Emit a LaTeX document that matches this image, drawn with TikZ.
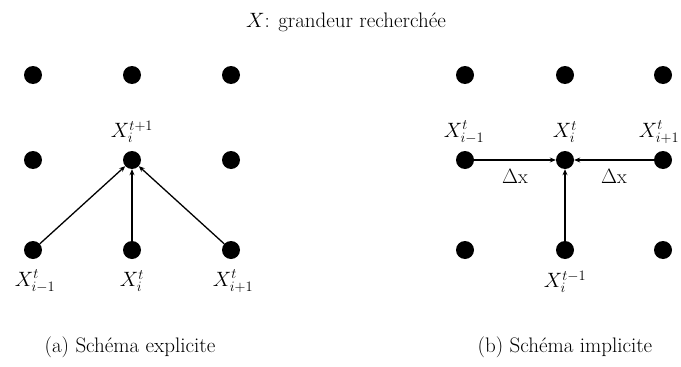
\documentclass[tikz,border=0pt]{standalone}
\usetikzlibrary{arrows.meta}
\begin{document}
\begin{tikzpicture}[x=1pt,y=-1pt,
  dot/.style={circle,fill=black,inner sep=0pt,minimum size=18pt},
  lbl/.style={font=\fontsize{20}{24}\selectfont,inner sep=0pt},
  txt/.style={font=\fontsize{21}{25}\selectfont,inner sep=0pt},
  arr/.style={-{Stealth[length=6pt,width=5pt]},line width=1.3pt}]
\useasboundingbox (0,0) rectangle (681,367);
\node[txt] (title) at (346,22) {$X$: grandeur recherchée};
% left grid
\foreach \c/\x in {a/33,b/132,c/231}{
  \foreach \r/\y in {1/75,2/160,3/250}{
    \node[dot] (L\c\r) at (\x,\y) {};
  }}
\foreach \c/\x in {a/465,b/565,c/663}{
  \foreach \r/\y in {1/75,2/160,3/250}{
    \node[dot] (R\c\r) at (\x,\y) {};
  }}
% left labels
\node[lbl] (l1) at (132,132) {$X_i^{t+1}$};
\node[lbl] (l2) at (35,281) {$X_{i-1}^t$};
\node[lbl] (l3) at (132,281) {$X_i^t$};
\node[lbl] (l4) at (233,281) {$X_{i+1}^t$};
\draw[arr] (La3) -- (Lb2);
\draw[arr] (Lb3) -- (Lb2);
\draw[arr] (Lc3) -- (Lb2);
% right labels
\node[lbl] (r1) at (464,132) {$X_{i-1}^t$};
\node[lbl] (r2) at (565,132) {$X_i^t$};
\node[lbl] (r3) at (659,132) {$X_{i+1}^t$};
\node[lbl] (r4) at (565,282) {$X_i^{t-1}$};
\draw[arr] (Ra2) -- node[lbl,below=9pt] (dx1) {$\Delta$x} (Rb2);
\draw[arr] (Rc2) -- node[lbl,below=9pt] (dx2) {$\Delta$x} (Rb2);
\draw[arr] (Rb3) -- (Rb2);
% captions
\node[txt] (capa) at (130,347) {(a) Schéma explicite};
\node[txt] (capb) at (565,347) {(b) Schéma implicite};
\end{tikzpicture}
\end{document}
